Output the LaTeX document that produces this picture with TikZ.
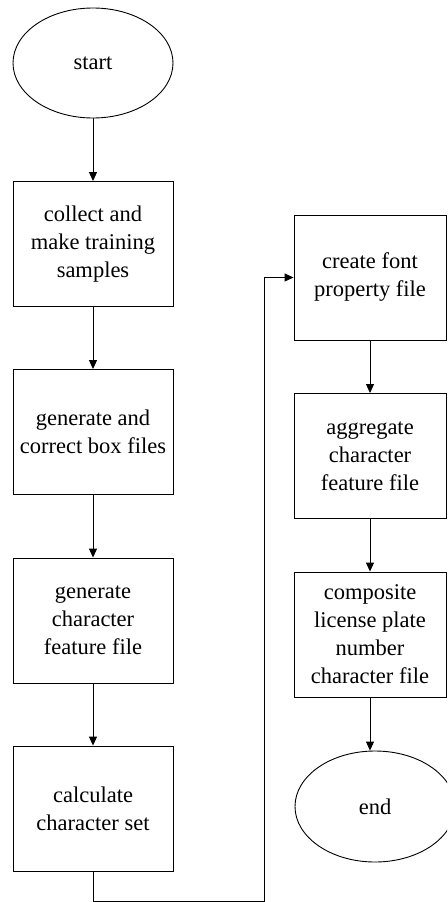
\documentclass[tikz,border=0pt]{standalone}
\usepackage{fontspec}
\setmainfont{Liberation Serif}
\usetikzlibrary{shapes.geometric,arrows.meta}

\begin{document}
\begin{tikzpicture}[x=1pt, y=-1pt, >={Triangle[length=9pt,width=8pt]}, line width=0.9pt,
  every node/.style={font=\fontsize{22.5}{28}\selectfont, align=center},
  procbox/.style={draw, rectangle, minimum width=160pt, minimum height=125pt, inner sep=0pt},
  rightbox/.style={procbox, minimum width=152pt},
  termnode/.style={draw, ellipse, minimum width=160pt, minimum height=110pt, inner sep=0pt}]

\clip (0,0) rectangle (447,902);

% Left column
\node[termnode] (start) at (93,63) {start};
\node[procbox] (collect) at (93,244) {collect and\\make training\\samples};
\node[procbox] (boxfiles) at (93,432) {generate and\\correct box files};
\node[procbox] (feature) at (93,620.5) {generate\\character\\feature file};
\node[procbox] (charset) at (93,808.5) {calculate\\character set};

% Right column
\node[rightbox] (font) at (370,277.5) {create font\\property file};
\node[rightbox] (aggregate) at (370,456) {aggregate\\character\\feature file};
\node[rightbox] (composite) at (370,634.5) {composite\\license plate\\number\\character file};
\node[termnode, minimum height=111pt] (end) at (375,806.5) {end};

% Arrows
\draw[->] (start) -- (collect);
\draw[->] (collect) -- (boxfiles);
\draw[->] (boxfiles) -- (feature);
\draw[->] (feature) -- (charset);

% Jump to the second column
\coordinate (turn) at (264,901);
\draw[->] (charset.south) |- (turn) |- (font.west);

\draw[->] (font) -- (aggregate);
\draw[->] (aggregate) -- (composite);
\draw[->] (composite.south) -- (composite.south |- end.north);

\end{tikzpicture}
\end{document}
